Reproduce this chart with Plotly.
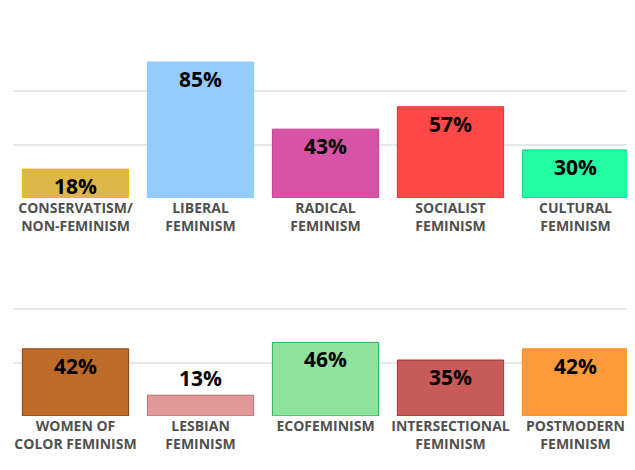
import plotly.graph_objects as go
from plotly.subplots import make_subplots

top_labels = ["CONSERVATISM/<br>NON-FEMINISM", "LIBERAL<br>FEMINISM", "RADICAL<br>FEMINISM", "SOCIALIST<br>FEMINISM", "CULTURAL<br>FEMINISM"]
top_values = [18, 85, 43, 57, 30]
top_colors = ["#ddb848", "#94cdfd", "#d653a8", "#ff4848", "#22fba2"]
top_lines = ["#e8b800", "#8cc8ff", "#c04090", "#e03030", "#10d080"]

bot_labels = ["WOMEN OF<br>COLOR FEMINISM", "LESBIAN<br>FEMINISM", "ECOFEMINISM", "INTERSECTIONAL<br>FEMINISM", "POSTMODERN<br>FEMINISM"]
bot_values = [42, 13, 46, 35, 42]
bot_colors = ["#c06a2a", "#e09898", "#8ee29c", "#c85a5a", "#ff9a3a"]
bot_lines = ["#8a3c00", "#b87070", "#20b050", "#a03838", "#ff8c1a"]

fig = make_subplots(rows=2, cols=1, vertical_spacing=0.12)

def add(labels, values, colors, lines, row):
    xs = list(range(len(values)))
    pos = ["inside" if v > 15 else "outside" for v in values]
    fig.add_trace(go.Bar(
        x=xs, y=values, width=0.85,
        marker=dict(color=colors, line=dict(color=lines, width=1)),
        text=[f"<b>{v}%</b>" for v in values], textposition=pos,
        insidetextanchor="end", constraintext="none", cliponaxis=False,
        textfont=dict(family="Open Sans", size=21, color="black"),
        hoverinfo="skip", showlegend=False), row=row, col=1)
    fig.update_xaxes(range=[-0.5, 4.5], tickvals=xs, automargin=False,
                     ticktext=[f"<b>{l}</b>" for l in labels],
                     tickfont=dict(family="Open Sans", size=14, color="#505050"),
                     showgrid=False, zeroline=False, showline=False, ticks="",
                     row=row, col=1)
    fig.update_yaxes(range=[0, 100], tickvals=[0, 33.3, 66.7, 100], automargin=False,
                     showticklabels=False, gridcolor="#e8e8e8", gridwidth=1.5,
                     zeroline=False, row=row, col=1)

add(top_labels, top_values, top_colors, top_lines, 1)
add(bot_labels, bot_values, bot_colors, bot_lines, 2)

fig.update_layout(
    width=635, height=470, margin=dict(l=5, r=5, t=0, b=0),
    paper_bgcolor="white", plot_bgcolor="white", bargap=0.15,
    font=dict(family="Open Sans"),
    uniformtext=dict(minsize=21, mode="show"),
)
fig.update_yaxes(domain=[0.596, 0.936], row=1, col=1)
fig.update_yaxes(domain=[0.132, 0.472], row=2, col=1)
fig.write_html("out.html")
